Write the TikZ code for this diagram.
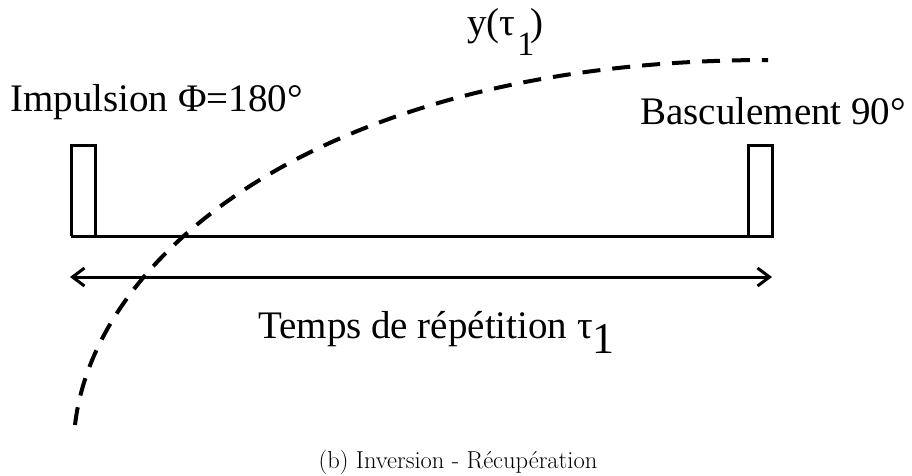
\documentclass[tikz,border=0pt]{standalone}
\usepackage{fontspec}
\newfontfamily\timesfont{Liberation Serif}
\usetikzlibrary{arrows.meta}
\tikzset{
  pulse/.style={line width=3pt, line join=miter},
  lbl/.style={font=\timesfont\fontsize{39}{45}\selectfont, inner sep=0pt, anchor=base west},
  recov/.style={line width=4pt, dash pattern=on 18pt off 12pt},
}
\begin{document}
\begin{tikzpicture}[x=1pt,y=-1pt]
  \useasboundingbox (0,0) rectangle (912,475);
  % pulses and time axis
  \draw[pulse] (71,236) -- (71,145) -- (95,145) -- (95,236) -- (748,236) -- (748,145) -- (772,145) -- (772,236) -- (71,236);
  \coordinate (tl) at (70,277);
  \coordinate (tr) at (772,277);
  \draw[line width=3pt, {Straight Barb[length=12pt,width=18pt]}-{Straight Barb[length=12pt,width=18pt]}] (tl) -- (tr);
  % recovery curve
  \coordinate (ystart) at (75,425);
  \coordinate (yend) at (768,60);
  \draw[recov] (ystart) .. controls (95,250) and (330,60) .. (yend);
  % labels
  \node[lbl] (imp) at (10,111) {Impulsion Φ=180°};
  \node[lbl] (basc) at (640,124) {Basculement 90°};
  \node[lbl] (ytau) at (467,35) {y(τ\kern2pt\lower20pt\hbox{\fontsize{34}{40}\selectfont 1}\kern-4pt)};
  \node[lbl] (trep) at (258,338) {Temps de répétition τ\lower15pt\hbox{\fontsize{44}{50}\selectfont 1}};
  \node[font=\fontsize{24.5}{28}\selectfont, inner sep=0pt, anchor=base] (cap) at (458,468) {(b) Inversion - Récupération};
\end{tikzpicture}
\end{document}
